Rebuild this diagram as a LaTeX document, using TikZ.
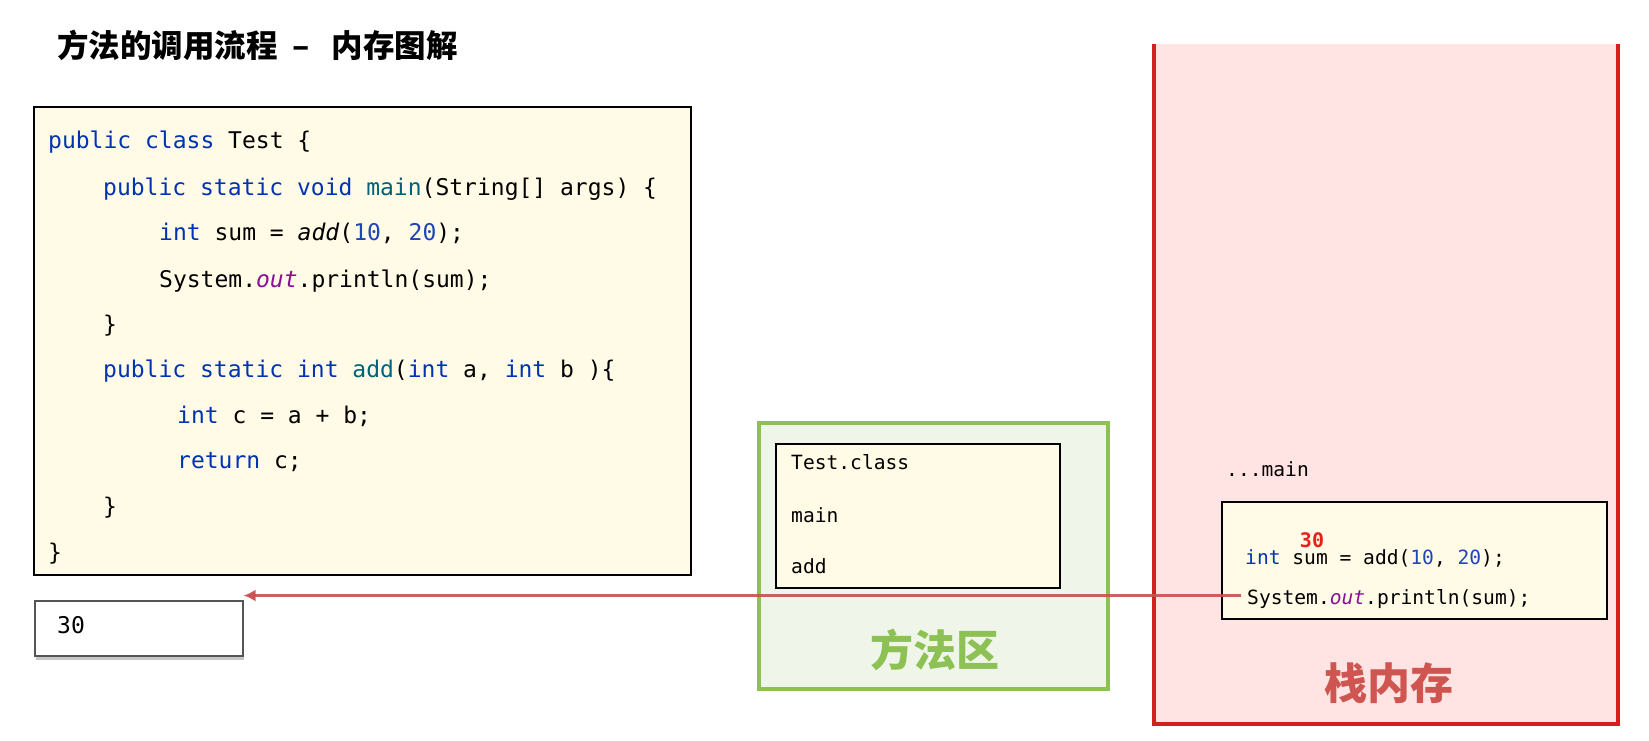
\documentclass[tikz,border=0pt]{standalone}
\usepackage{fontspec}
\setmonofont{DejaVu Sans Mono}
\newfontfamily\cjk{Noto Sans CJK SC}
\newfontfamily\cjkheavy{Noto Sans CJK SC Black}
\usetikzlibrary{arrows.meta,shadows}

\definecolor{codebg}{HTML}{FFFBE6}
\definecolor{kwblue}{HTML}{0033B3}
\definecolor{declteal}{HTML}{00627A}
\definecolor{numblue}{HTML}{1F45B8}
\definecolor{fldpurple}{HTML}{871094}
\definecolor{areagreen}{HTML}{8DC153}
\definecolor{areafill}{HTML}{EFF5E9}
\definecolor{stackpink}{HTML}{FFE4E3}
\definecolor{stackred}{HTML}{D21F1F}
\definecolor{stacktext}{HTML}{CF5550}
\definecolor{arrowred}{HTML}{C94F4D}
\definecolor{retgray}{HTML}{555555}
\definecolor{valred}{HTML}{E8201B}

\newcommand\jkw[1]{\textcolor{kwblue}{#1}}
\newcommand\jdecl[1]{\textcolor{declteal}{#1}}
\newcommand\jnum[1]{\textcolor{numblue}{#1}}
\newcommand\jfld[1]{\textcolor{fldpurple}{\textit{#1}}}

\tikzset{
  codeline/.style={anchor=base west, inner sep=0pt, font=\fontsize{23}{28}\selectfont\ttfamily},
  areatext/.style={anchor=base west, inner sep=0pt, font=\fontsize{19.6}{24}\selectfont\ttfamily},
  yellowbox/.style={draw=black, line width=1.8pt, fill=codebg},
  areabox/.style={draw=areagreen, line width=4pt, fill=areafill},
  stackline/.style={draw=stackred, line width=4pt},
  retbox/.style={draw=retgray, line width=1.5pt, fill=white,
    drop shadow={shadow xshift=1pt, shadow yshift=-4pt, opacity=0.45}},
  titletext/.style={anchor=west, inner sep=0pt, font=\fontsize{31.5}{38}\selectfont\cjkheavy},
  areatitle/.style={inner sep=0pt, font=\fontsize{43}{50}\selectfont\cjk\bfseries},
  callarrow/.style={draw=arrowred, line width=3.5pt, opacity=0.9, -{Latex[length=12pt,width=12pt]}}
}

\begin{document}
\begin{tikzpicture}[x=1pt,y=-1pt]
\useasboundingbox (0,0) rectangle (1649,741);
% stack background
\fill[stackpink] (1154,44) rectangle (1618,724);
\draw[stackline] (1154,44) -- (1154,724) -- (1618,724) -- (1618,44);
% title
\node[titletext] (title) at (57,45) {方法的调用流程\hspace{15pt}–\hspace{22pt}内存图解};
% source code
\draw[yellowbox] (34,107) rectangle (691,575);
\node[codeline] (l1) at (48,149) {\jkw{public} \jkw{class} Test \{};
\node[codeline] (l2) at (103,195) {\jkw{public} \jkw{static} \jkw{void} \jdecl{main}(String[] args) \{};
\node[codeline] (l3) at (159,240) {\jkw{int} sum = \textit{add}(\jnum{10}, \jnum{20});};
\node[codeline] (l4) at (159,287) {System.\jfld{out}.println(sum);};
\node[codeline] (l5) at (103,332) {\}};
\node[codeline] (l6) at (103,377) {\jkw{public} \jkw{static} \jkw{int} \jdecl{add}(\jkw{int} a, \jkw{int} b )\{};
\node[codeline] (l7) at (177,423) {\jkw{int} c = a + b;};
\node[codeline] (l8) at (177,468) {\jkw{return} c;};
\node[codeline] (l9) at (103,514) {\}};
\node[codeline] (l10) at (48,560) {\}};
% output
\node[retbox, anchor=north west, minimum width=208pt, minimum height=55pt] (ret) at (34,600) {};
\node[codeline] (retval) at (57,633) {30};
% method area
\draw[areabox] (759,423) rectangle (1108,689);
\draw[yellowbox] (776,444) rectangle (1060,588);
\node[areatext] (cls) at (791,469) {Test.class};
\node[areatext] (mmain) at (791,522) {main};
\node[areatext] (madd) at (791,573) {add};
\node[areatitle, text=areagreen] (area) at (935,650) {方法区};
% stack
\node[areatext] (frame) at (1226,476) {...main};
\draw[yellowbox] (1222,502) rectangle (1607,619);
\node[areatext] (s1) at (1245,564) {\jkw{int} sum = add(\jnum{10}, \jnum{20});};
\node[areatext] (s2) at (1247,604) {System.\jfld{out}.println(sum);};
\node[inner sep=0pt, text=valred, font=\fontsize{20}{24}\selectfont\ttfamily\bfseries] (sumval) at (1312,540) {30};
\node[areatitle, text=stacktext] (stack) at (1389,683) {栈内存};
% return value
\draw[callarrow] ([shift={(-6pt,3pt)}]s2.west) -- ([yshift=3pt]s2.west -| ret.east);
\end{tikzpicture}
\end{document}
